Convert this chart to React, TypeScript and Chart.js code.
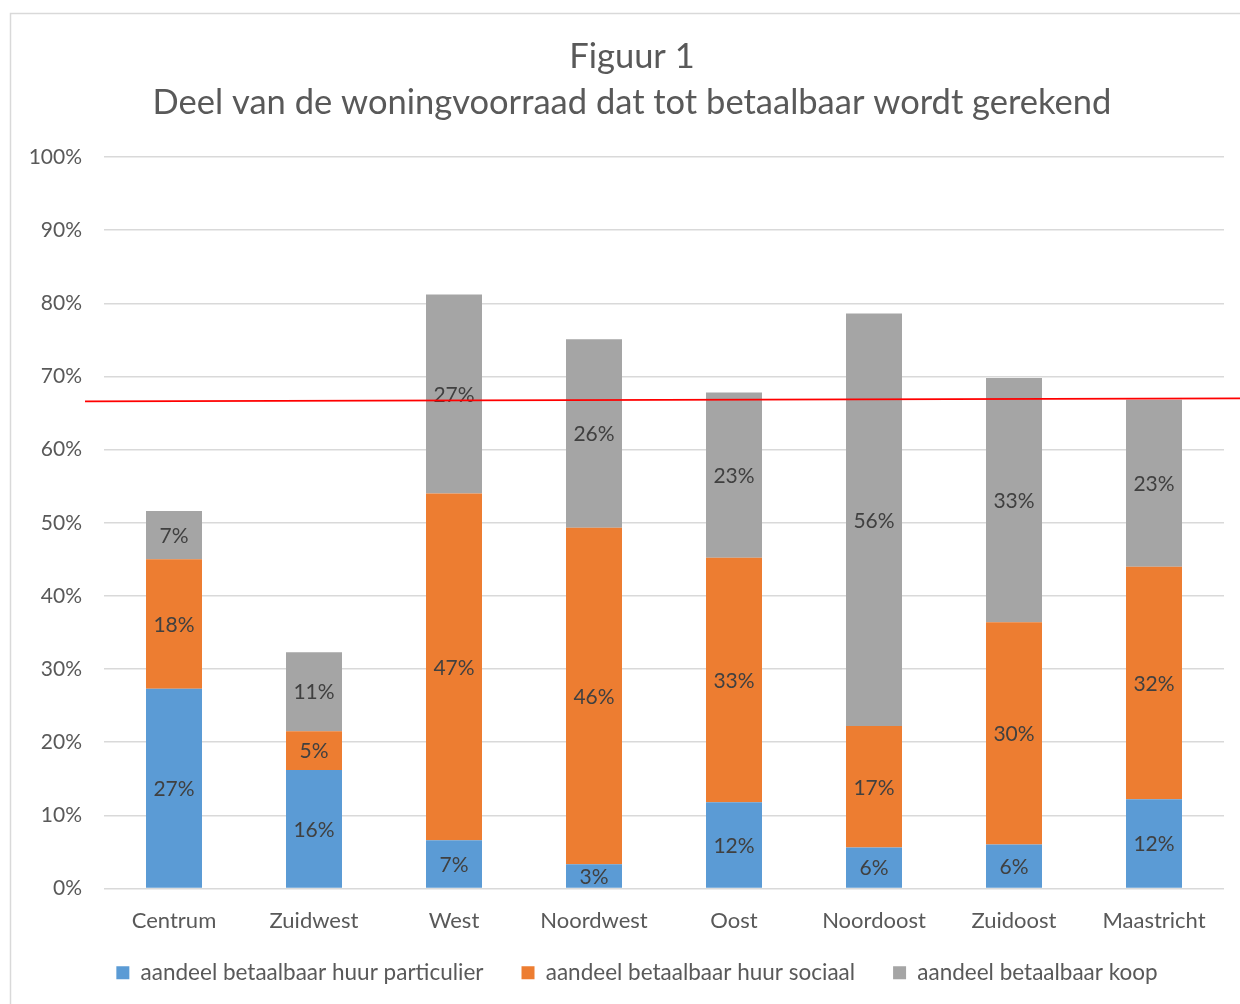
import React, { useEffect, useRef } from 'react';
import { Chart, registerables } from 'chart.js';

Chart.register(...registerables);

const categories = ['Centrum', 'Zuidwest', 'West', 'Noordwest', 'Oost', 'Noordoost', 'Zuidoost', 'Maastricht'];
const huurParticulier = [27.3, 16.2, 6.6, 3.3, 11.8, 5.6, 6.0, 12.2];
const huurSociaal = [17.7, 5.3, 47.4, 46.0, 33.4, 16.6, 30.4, 31.8];
const koop = [6.6, 10.8, 27.2, 25.8, 22.6, 56.4, 33.4, 22.8];
const seriesNames = [
  'aandeel betaalbaar huur particulier',
  'aandeel betaalbaar huur sociaal',
  'aandeel betaalbaar koop',
];
const seriesColors = ['#5B9BD5', '#ED7D31', '#A5A5A5'];
const redLine = [66.6, 67.0];
const titleLines = ['Figuur 1', 'Deel van de woningvoorraad dat tot betaalbaar wordt gerekend'];

const FONT = 'Lato, "Noto Sans", sans-serif';

const framePlugin = {
  id: 'frame',
  beforeDraw(chart: any) {
    const ctx = chart.ctx;
    ctx.save();
    ctx.fillStyle = '#ffffff';
    ctx.fillRect(0, 0, chart.width, chart.height);
    ctx.strokeStyle = '#d9d9d9';
    ctx.lineWidth = 1.5;
    ctx.strokeRect(10.5, 13.5, chart.width + 40, chart.height + 40);
    ctx.fillStyle = '#595959';
    ctx.font = `34.5px ${FONT}`;
    ctx.textAlign = 'center';
    ctx.textBaseline = 'middle';
    ctx.fillText(titleLines[0], 632, 57);
    ctx.fillText(titleLines[1], 632, 103);
    ctx.restore();
  },
};

const xLabelsPlugin = {
  id: 'xLabels',
  afterDraw(chart: any) {
    const ctx = chart.ctx;
    const x = chart.scales.x;
    ctx.save();
    ctx.fillStyle = '#595959';
    ctx.font = `22px ${FONT}`;
    ctx.textAlign = 'center';
    ctx.textBaseline = 'middle';
    chart.data.labels.forEach((lab: string, i: number) => {
      ctx.fillText(lab, x.getPixelForTick(i), chart.chartArea.bottom + 32);
    });
    ctx.restore();
  },
};

const legendShiftPlugin = {
  id: 'legendShift',
  afterLayout(chart: any) {
    const lg = chart.legend;
    if (lg) {
      lg.left += 25;
      lg.right += 25;
    }
  },
};

const labelPlugin = {
  id: 'segLabels',
  afterDatasetsDraw(chart: any) {
    const ctx = chart.ctx;
    ctx.save();
    ctx.font = `21px ${FONT}`;
    ctx.fillStyle = '#404040';
    ctx.textAlign = 'center';
    ctx.textBaseline = 'middle';
    chart.data.datasets.forEach((ds: any, di: number) => {
      const meta = chart.getDatasetMeta(di);
      meta.data.forEach((el: any, i: number) => {
        const v = ds.data[i];
        const cy = (el.y + el.base) / 2;
        ctx.fillText(Math.round(v) + '%', el.x, cy + 1);
      });
    });
    ctx.restore();
  },
};

const redLinePlugin = {
  id: 'redLine',
  afterDraw(chart: any) {
    const ctx = chart.ctx;
    const y = chart.scales.y;
    ctx.save();
    ctx.strokeStyle = '#FF0000';
    ctx.lineWidth = 1.8;
    ctx.beginPath();
    ctx.moveTo(85, y.getPixelForValue(redLine[0]));
    ctx.lineTo(chart.width, y.getPixelForValue(redLine[1]));
    ctx.stroke();
    ctx.restore();
  },
};

export default function App() {
  const ref = useRef<HTMLCanvasElement | null>(null);
  useEffect(() => {
    if (!ref.current) return;
    const seriesData = [huurParticulier, huurSociaal, koop];
    const chart = new Chart(ref.current, {
      type: 'bar',
      data: {
        labels: categories,
        datasets: seriesNames.map((name, i) => ({
          label: name,
          data: seriesData[i],
          backgroundColor: seriesColors[i],
          borderWidth: 0,
          categoryPercentage: 1,
          barPercentage: 0.4,
        })),
      },
      options: {
        responsive: false,
        animation: false,
        layout: { padding: { left: 0, right: 16, top: 157, bottom: 10 } },
        plugins: {
          title: { display: false },
          legend: {
            position: 'bottom',
            labels: {
              boxWidth: 13,
              boxHeight: 13,
              padding: 38,
              color: '#595959',
              font: { family: FONT, size: 22.5 },
            },
          },
          tooltip: { enabled: false },
        },
        scales: {
          x: {
            stacked: true,
            grid: { display: false },
            border: { display: false },
            ticks: { display: false },
            afterFit: (s: any) => {
              s.height = 35;
            },
          },
          y: {
            stacked: true,
            min: 0,
            max: 100,
            grid: { color: '#d9d9d9', lineWidth: 1.5, drawTicks: false },
            border: { display: false },
            ticks: {
              stepSize: 10,
              color: '#595959',
              font: { family: FONT, size: 21 },
              padding: 22,
              callback: (v: any) => v + '%',
            },
            afterFit: (s: any) => {
              s.width = 104;
            },
          },
        },
      },
      plugins: [framePlugin, legendShiftPlugin, labelPlugin, xLabelsPlugin, redLinePlugin],
    });
    return () => chart.destroy();
  }, []);
  return (
    <div style={{ position: 'absolute', left: 0, top: 0, width: 1240, height: 1004 }}>
      <canvas ref={ref} width={1240} height={1004} />
    </div>
  );
}
